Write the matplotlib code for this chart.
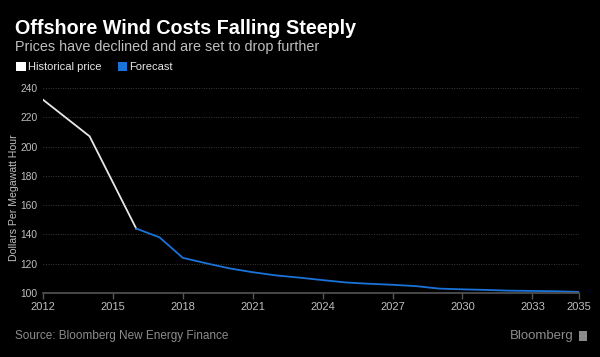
import matplotlib
matplotlib.use("Agg")
import matplotlib.pyplot as plt
from matplotlib.patches import Rectangle

# data
hist_years = [2012, 2014, 2016]
hist_price = [232, 207, 144]
fc_years = list(range(2016, 2036))
fc_price = [144, 138, 124, 120.3, 116.8, 114.2, 112.0, 110.5, 108.8, 107.2,
            106.3, 105.6, 104.7, 103.0, 102.5, 102.1, 101.6, 101.4, 101.2, 100.7]
xticks = [2012, 2015, 2018, 2021, 2024, 2027, 2030, 2033, 2035]
yticks = [100, 120, 140, 160, 180, 200, 220, 240]

plt.rcParams['font.family'] = ['Liberation Sans', 'DejaVu Sans']

W, H = 600, 357
bg = "#000000"
grey = "#bfbfbf"
white = "#e8e8e8"
blue = "#1a73d9"

fig = plt.figure(figsize=(W / 100, H / 100), dpi=100, facecolor=bg)
ax = fig.add_axes([43 / W, 1 - 293 / H, (579 - 43) / W, (293 - 88) / H], facecolor=bg)

ax.plot(hist_years, hist_price, color=white, lw=1.3, solid_joinstyle="round")
ax.plot(fc_years, fc_price, color=blue, lw=1.3, solid_joinstyle="round")

ax.set_xlim(2012, 2035)
ax.set_ylim(100, 240)
ax.set_xticks(xticks)
ax.set_yticks(yticks)
ax.tick_params(axis="x", colors="#555555", labelcolor=grey, length=4, width=1, labelsize=8, pad=2.5)
ax.tick_params(axis="y", length=0, labelcolor=grey, labelsize=7.4, pad=4)
for s in ["top", "right", "left"]:
    ax.spines[s].set_visible(False)
ax.spines["bottom"].set_color("#555555")
ax.spines["bottom"].set_linewidth(1.2)
ax.grid(axis="y", color="#3a3a3a", lw=0.7, ls=(0, (1, 1.5)))
ax.set_axisbelow(True)
ax.set_ylabel("Dollars Per Megawatt Hour", color=grey, fontsize=7.6)
ax.yaxis.set_label_coords((19.5 - 43) / 536, (293 - 198) / 205)

fig.text(15 / W, 1 - 28 / H, "Offshore Wind Costs Falling Steeply", color="white",
         fontsize=14.2, fontweight="bold", va="center", ha="left")
fig.text(15 / W, 1 - 47 / H, "Prices have declined and are set to drop further", color=grey,
         fontsize=10.4, va="center", ha="left")

fig.patches.append(Rectangle((16 / W, 1 - 71 / H), 9.5 / W, 9 / H, transform=fig.transFigure,
                             facecolor="white", edgecolor="none"))
fig.text(28 / W, 1 - 67 / H, "Historical price", color=white, fontsize=8, va="center", ha="left")
fig.patches.append(Rectangle((117.5 / W, 1 - 71 / H), 9.5 / W, 9 / H, transform=fig.transFigure,
                             facecolor=blue, edgecolor="none"))
fig.text(129 / W, 1 - 67 / H, "Forecast", color=white, fontsize=8, va="center", ha="left")

fig.text(15 / W, 1 - 336 / H, "Source: Bloomberg New Energy Finance", color="#8c8c8c",
         fontsize=8.5, va="center", ha="left")
fig.text(574 / W, 1 - 336 / H, "Bloomberg", color="#8c8c8c", fontsize=9.5,
         va="center", ha="right")
fig.patches.append(Rectangle((579 / W, 1 - 341 / H), 8 / W, 10 / H, transform=fig.transFigure,
                             facecolor="#8c8c8c", edgecolor="none"))

fig.savefig("out.png", dpi=100, facecolor=bg)
